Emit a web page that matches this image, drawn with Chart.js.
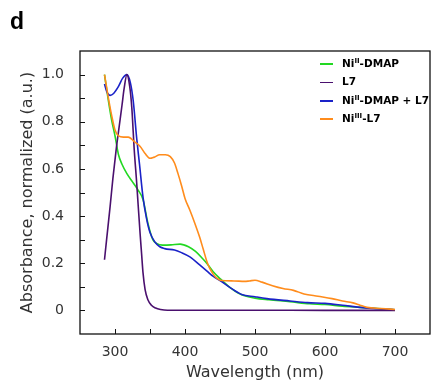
<!DOCTYPE html>
<html>
<head>
<meta charset="utf-8">
<script src="https://cdn.jsdelivr.net/npm/chart.js@4"></script>
<style>
  body { margin: 0; background: #fff; }
  #wrap { position: relative; width: 431px; height: 380px; }
  #panel { position: absolute; left: 10px; top: 8px; font: bold 23px "Liberation Sans", Arial, sans-serif; color: #000; }
  .leg { position: absolute; left: 320px; font: bold 10.5px "DejaVu Sans", sans-serif; color: #000; white-space: nowrap; }
  .leg i { display: inline-block; width: 13px; height: 1.6px; vertical-align: middle; margin-right: 9px; }
  .leg sup { font-size: 7px; vertical-align: 4px; line-height: 0; }
</style>
</head>
<body>
<div id="wrap">
  <canvas id="chart" width="431" height="380"></canvas>
  <div id="panel">d</div>
  <div id="legend"></div>
</div>
<script>
// wavelength (nm) and normalized absorbance for each trace
const wlNiDMAP  = [285, 290, 295, 300, 305, 310, 317, 325, 333, 340, 347, 354, 360, 368, 380, 393, 405, 415, 425, 431, 440, 450, 464, 481, 500, 520, 550, 578, 600, 625, 650, 675, 700];
const absNiDMAP = [1.0, 0.90, 0.81, 0.74, 0.66, 0.62, 0.58, 0.545, 0.51, 0.47, 0.37, 0.30, 0.283, 0.277, 0.278, 0.281, 0.27, 0.25, 0.22, 0.20, 0.165, 0.135, 0.098, 0.066, 0.052, 0.045, 0.037, 0.028, 0.025, 0.018, 0.013, 0.008, 0.003];

const wlL7  = [285, 288, 293, 297, 302, 306, 310, 313, 317, 321, 324, 327.5, 331, 333, 336, 338, 340, 343, 347, 352, 358, 365, 375, 400, 500, 600, 700];
const absL7 = [0.215, 0.30, 0.44, 0.56, 0.69, 0.78, 0.87, 0.94, 1.0, 0.95, 0.86, 0.68, 0.54, 0.45, 0.32, 0.24, 0.16, 0.088, 0.045, 0.022, 0.01, 0.004, 0.001, 0.001, 0.001, 0.0, 0.0];

const wlMix  = [285, 288, 293, 298, 305, 311, 317, 322, 326, 331, 335, 340, 345, 350, 357, 364, 371, 385, 395, 407, 421, 431, 440, 450, 464, 481, 500, 517, 550, 575, 600, 625, 650, 675, 700];
const absMix = [0.96, 0.93, 0.912, 0.92, 0.95, 0.985, 1.0, 0.965, 0.89, 0.73, 0.62, 0.48, 0.39, 0.33, 0.29, 0.27, 0.262, 0.256, 0.245, 0.227, 0.193, 0.168, 0.145, 0.127, 0.098, 0.068, 0.058, 0.05, 0.04, 0.033, 0.030, 0.022, 0.013, 0.007, 0.003];

const wlNiL7  = [285, 290, 295, 300, 305, 312, 319, 328, 336, 343, 350, 356, 364, 372, 379, 385, 390, 395, 400, 407, 414, 421, 426, 431, 435, 440, 445, 452, 470, 485, 492, 500, 510, 525, 540, 555, 570, 590, 610, 625, 640, 650, 660, 680, 700];
const absNiL7 = [1.0, 0.91, 0.83, 0.765, 0.74, 0.735, 0.735, 0.715, 0.695, 0.665, 0.645, 0.65, 0.66, 0.66, 0.652, 0.625, 0.58, 0.53, 0.475, 0.425, 0.37, 0.31, 0.26, 0.21, 0.18, 0.155, 0.138, 0.127, 0.125, 0.123, 0.125, 0.128, 0.12, 0.105, 0.093, 0.085, 0.07, 0.06, 0.05, 0.04, 0.032, 0.022, 0.013, 0.008, 0.004];

const seriesLabels = ['Ni<sup>II</sup>-DMAP', 'L7', 'Ni<sup>II</sup>-DMAP + L7', 'Ni<sup>III</sup>-L7'];
const seriesColors = ['#22d822', '#4a106e', '#1a22c8', '#ff8c1c'];

const xTicks = [300, 400, 500, 600, 700];
const yTicks = [0, 0.2, 0.4, 0.6, 0.8, 1.0];

function pts(xs, ys) {
    return xs.map((x, i) => ({ x: x, y: ys[i] }));
}

const seriesData = [pts(wlNiDMAP, absNiDMAP), pts(wlL7, absL7), pts(wlMix, absMix), pts(wlNiL7, absNiL7)];
const drawOrder = [3, 1, 2, 0];

// frame + inward tick marks
const framePlugin = {
    id: 'frame',
    afterDraw(chart) {
        const { ctx, chartArea: a, scales } = chart;
        ctx.save();
        ctx.strokeStyle = '#111';
        ctx.lineWidth = 1.3;
        ctx.strokeRect(a.left, a.top, a.right - a.left, a.bottom - a.top);
        ctx.lineWidth = 1;
        ctx.beginPath();
        for (let v = 300; v <= 700; v += 50) {
            const px = Math.round(scales.x.getPixelForValue(v)) + 0.5;
            ctx.moveTo(px, a.bottom);
            ctx.lineTo(px, a.bottom - 5);
        }
        for (let k = 0; k <= 10; k++) {
            const py = Math.round(scales.y.getPixelForValue(k / 10)) + 0.5;
            ctx.moveTo(a.left, py);
            ctx.lineTo(a.left + 5, py);
        }
        ctx.stroke();
        ctx.restore();
    }
};

const tickFont = { family: '"DejaVu Sans", sans-serif', size: 14 };

new Chart(document.getElementById('chart'), {
    type: 'line',
    data: {
        datasets: seriesData.map((d, i) => ({
            label: seriesLabels[i].replace(/<[^>]+>/g, ''),
            data: d,
            borderColor: seriesColors[i],
            borderWidth: 1.6,
            pointRadius: 0,
            cubicInterpolationMode: 'monotone',
            order: drawOrder[i]
        }))
    },
    options: {
        responsive: false,
        animation: false,
        layout: { padding: { top: 51, right: 1, left: 0, bottom: 0 } },
        plugins: { legend: { display: false }, tooltip: { enabled: false } },
        scales: {
            x: {
                type: 'linear',
                min: 250,
                max: 750,
                afterBuildTicks: s => { s.ticks = xTicks.map(v => ({ value: v })); },
                afterFit: s => { s.height = 46; s.paddingLeft = 0; s.paddingRight = 0; },
                grid: { display: false },
                border: { display: false },
                ticks: {
                    autoSkip: false,
                    maxRotation: 0,
                    padding: 2,
                    color: '#333',
                    font: tickFont
                },
                title: {
                    display: true,
                    text: 'Wavelength (nm)',
                    color: '#333',
                    font: { family: '"DejaVu Sans", sans-serif', size: 16 },
                    padding: { top: 0, bottom: -2 }
                }
            },
            y: {
                min: -0.1,
                max: 1.1,
                afterBuildTicks: s => { s.ticks = yTicks.map(v => ({ value: v })); },
                afterFit: s => { s.width = 80; s.paddingTop = 0; s.paddingBottom = 0; },
                grid: { display: false },
                border: { display: false },
                ticks: {
                    autoSkip: false,
                    padding: 8,
                    color: '#333',
                    font: tickFont,
                    callback: v => v === 0 ? '0' : v.toFixed(1)
                },
                title: {
                    display: true,
                    text: 'Absorbance, normalized (a.u.)',
                    color: '#333',
                    font: { family: '"DejaVu Sans", sans-serif', size: 16 },
                    padding: { top: 18, bottom: 0 }
                }
            }
        }
    },
    plugins: [framePlugin]
});

// legend with superscripts
const legend = document.getElementById('legend');
seriesLabels.forEach((lab, i) => {
    const row = document.createElement('div');
    row.className = 'leg';
    row.style.top = (57 + i * 18.4) + 'px';
    row.innerHTML = `<i style="background:${seriesColors[i]}"></i>${lab}`;
    legend.appendChild(row);
});
</script>
</body>
</html>
